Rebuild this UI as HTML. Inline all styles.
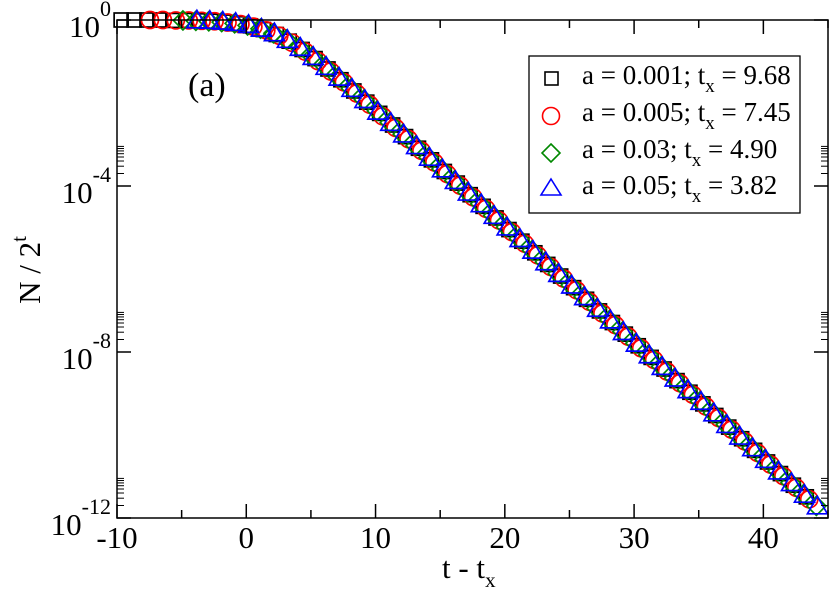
<!DOCTYPE html>
<html><head><meta charset="utf-8"><style>
html,body{margin:0;padding:0;background:#fff;}
svg{display:block;font-family:"Liberation Serif",serif;}
</style></head><body>
<svg id="chart" width="830" height="593" viewBox="0 0 830 593">
<g id="marks"></g>
<g id="axes"></g>
</svg>
<script>
// t_x offsets per series (x = index - tx)
const txBlack = 9.68, txRed = 7.45, txGreen = 4.90, txBlue = 3.82;
// log10(N/2^t) values per series
const logBlack = [0,0,0,0,-0.01,-0.01,-0.02,-0.03,-0.05,-0.09,-0.14,-0.23,-0.35,-0.51,-0.71,-0.93,-1.18,-1.44,-1.71,-1.98,-2.25,-2.53,-2.81,
 -3.09,-3.37,-3.65,-3.93,-4.21,-4.49,-4.77,-5.05,-5.33,-5.61,-5.89,-6.17,-6.45,-6.73,-7.01,-7.29,-7.57,-7.85,-8.13,-8.41,-8.69,-8.97,-9.25,-9.53,-9.81,-10.09,-10.37,-10.65,-10.93,-11.21,-11.49];
const logRed = [0,0,-0.01,-0.01,-0.02,-0.03,-0.06,-0.10,-0.16,-0.25,-0.38,-0.55,-0.76,-0.99,-1.24,-1.50,-1.77,-2.04,-2.32,-2.60,-2.87,
 -3.15,-3.43,-3.71,-3.99,-4.27,-4.55,-4.83,-5.11,-5.39,-5.67,-5.95,-6.23,-6.51,-6.79,-7.07,-7.35,-7.63,-7.91,-8.19,-8.47,-8.75,-9.03,-9.31,-9.59,-9.87,-10.15,-10.43,-10.71,-10.99,-11.27,-11.55];
const logGreen = [-0.01,-0.02,-0.03,-0.05,-0.08,-0.13,-0.21,-0.32,-0.47,-0.66,-0.88,-1.12,-1.38,-1.65,-1.92,-2.19,-2.47,-2.75,
 -3.03,-3.31,-3.59,-3.87,-4.15,-4.43,-4.71,-4.99,-5.27,-5.55,-5.83,-6.11,-6.39,-6.67,-6.95,-7.23,-7.51,-7.79,-8.07,-8.35,-8.63,-8.91,-9.19,-9.47,-9.75,-10.03,-10.31,-10.59,-10.87,-11.15,-11.43,-11.71];
const logBlue = [-0.02,-0.03,-0.05,-0.08,-0.13,-0.22,-0.33,-0.49,-0.68,-0.90,-1.14,-1.40,-1.67,-1.94,-2.22,-2.49,-2.77,
 -3.05,-3.33,-3.61,-3.89,-4.17,-4.45,-4.73,-5.01,-5.29,-5.57,-5.85,-6.13,-6.41,-6.69,-6.97,-7.25,-7.53,-7.81,-8.09,-8.37,-8.65,-8.93,-9.21,-9.49,-9.77,-10.05,-10.33,-10.61,-10.89,-11.17,-11.45,-11.73];
const xTicks = [-10,0,10,20,30,40];
const yTickExp = [0,-4,-8,-12];

const NS="http://www.w3.org/2000/svg";
const L=117,R=828,T=20,B=518, xMin=-10,xMax=45, yMin=-12,yMax=0;
const sx=v=>L+(v-xMin)/(xMax-xMin)*(R-L);
const sy=v=>T+(yMax-v)/(yMax-yMin)*(B-T);
function mk(tag,at,parent){const e=document.createElementNS(NS,tag);for(const k in at)e.setAttribute(k,at[k]);parent.appendChild(e);return e;}
const marks=document.getElementById('marks'), axes=document.getElementById('axes');

function marker(type,cx,cy,parent){
  let e;
  if(type==='square') e=mk('rect',{x:cx-7,y:cy-7,width:14,height:14,fill:'none',stroke:'#000','stroke-width':1.7},parent);
  else if(type==='circle') e=mk('circle',{cx:cx,cy:cy,r:8.5,fill:'none',stroke:'#f00','stroke-width':1.7},parent);
  else if(type==='diamond') e=mk('polygon',{points:`${cx},${cy-9.5} ${cx+9.5},${cy} ${cx},${cy+9.5} ${cx-9.5},${cy}`,fill:'none',stroke:'#080','stroke-width':1.7},parent);
  else e=mk('polygon',{points:`${cx},${cy-10.5} ${cx+10},${cy+7} ${cx-10},${cy+7}`,fill:'none',stroke:'#00f','stroke-width':1.7},parent);
  return e;
}
const series=[['square',txBlack,logBlack,'series-a-0.001'],['circle',txRed,logRed,'series-a-0.005'],['diamond',txGreen,logGreen,'series-a-0.03'],['triangle',txBlue,logBlue,'series-a-0.05']];
series.forEach(s=>{
  const g=mk('g',{},marks);
  
  
  s[2].forEach((v,i)=>{
    const p=marker(s[0],sx(i-s[1]),sy(v),g);
    
    
  });
});

const fr=mk('rect',{x:L,y:T,width:R-L,height:B-T,fill:'none',stroke:'#000','stroke-width':1.5},axes);


for(let v=-10;v<=45;v+=5){
  const x=sx(v), len=(v%10===0)?14:8;
  mk('line',{x1:x,y1:B,x2:x,y2:B-len,stroke:'#000','stroke-width':1.5},axes);
  mk('line',{x1:x,y1:T,x2:x,y2:T+len,stroke:'#000','stroke-width':1.5},axes);
}
xTicks.forEach(v=>{
  const t=mk('text',{x:sx(v),y:548,'text-anchor':'middle','font-size':31},axes);
  t.textContent=v;
  
  
});
yTickExp.forEach(e=>{
  const y=sy(e);
  mk('line',{x1:L,y1:y,x2:L+14,y2:y,stroke:'#000','stroke-width':1.5},axes);
  mk('line',{x1:R,y1:y,x2:R-14,y2:y,stroke:'#000','stroke-width':1.5},axes);
  for(let m=2;m<=9;m++){
    const yy=sy(e+Math.log10(m));
    if(yy<T) continue;
    mk('line',{x1:L,y1:yy,x2:L+7,y2:yy,stroke:'#000','stroke-width':1},axes);
    mk('line',{x1:R,y1:yy,x2:R-7,y2:yy,stroke:'#000','stroke-width':1},axes);
  }
  const t=mk('text',{x:L-6,y:y+17,'text-anchor':'end','font-size':31},axes);
  
  
  const a=mk('tspan',{},t); a.textContent='10';
  const b=mk('tspan',{dy:-21,'font-size':22},t); b.textContent=String(e);
});
</script>
<svg style="position:absolute;left:0;top:0" width="830" height="593">
<text x="188" y="96" font-size="34" font-family="Liberation Serif,serif">(a)</text>
<text transform="translate(40,270) rotate(-90)" text-anchor="middle" font-size="31" font-family="Liberation Serif,serif">N / 2<tspan dy="-14" font-size="21">t</tspan></text>
<text x="442" y="578" font-size="31" font-family="Liberation Serif,serif">t - t<tspan dy="9" font-size="21">x</tspan></text>
<g font-family="Liberation Serif,serif" font-size="27">
<rect x="529" y="56" width="271" height="157" fill="#fff" stroke="#000" stroke-width="1.3"/>
<g><rect x="545" y="72" width="13" height="13" fill="none" stroke="#000" stroke-width="1.6"/><text x="582" y="84">a = 0.001; t<tspan dy="8" font-size="19">x</tspan><tspan dy="-8"> = 9.68</tspan></text></g>
<g><circle cx="551" cy="116" r="8.5" fill="none" stroke="#f00" stroke-width="1.6"/><text x="582" y="121">a = 0.005; t<tspan dy="8" font-size="19">x</tspan><tspan dy="-8"> = 7.45</tspan></text></g>
<g><polygon points="551,144 560,153 551,162 542,153" fill="none" stroke="#080" stroke-width="1.6"/><text x="582" y="158">a = 0.03; t<tspan dy="8" font-size="19">x</tspan><tspan dy="-8"> = 4.90</tspan></text></g>
<g><polygon points="551,179 561,195 541,195" fill="none" stroke="#00f" stroke-width="1.6"/><text x="582" y="194">a = 0.05; t<tspan dy="8" font-size="19">x</tspan><tspan dy="-8"> = 3.82</tspan></text></g>
</g>
</svg>
</body></html>
